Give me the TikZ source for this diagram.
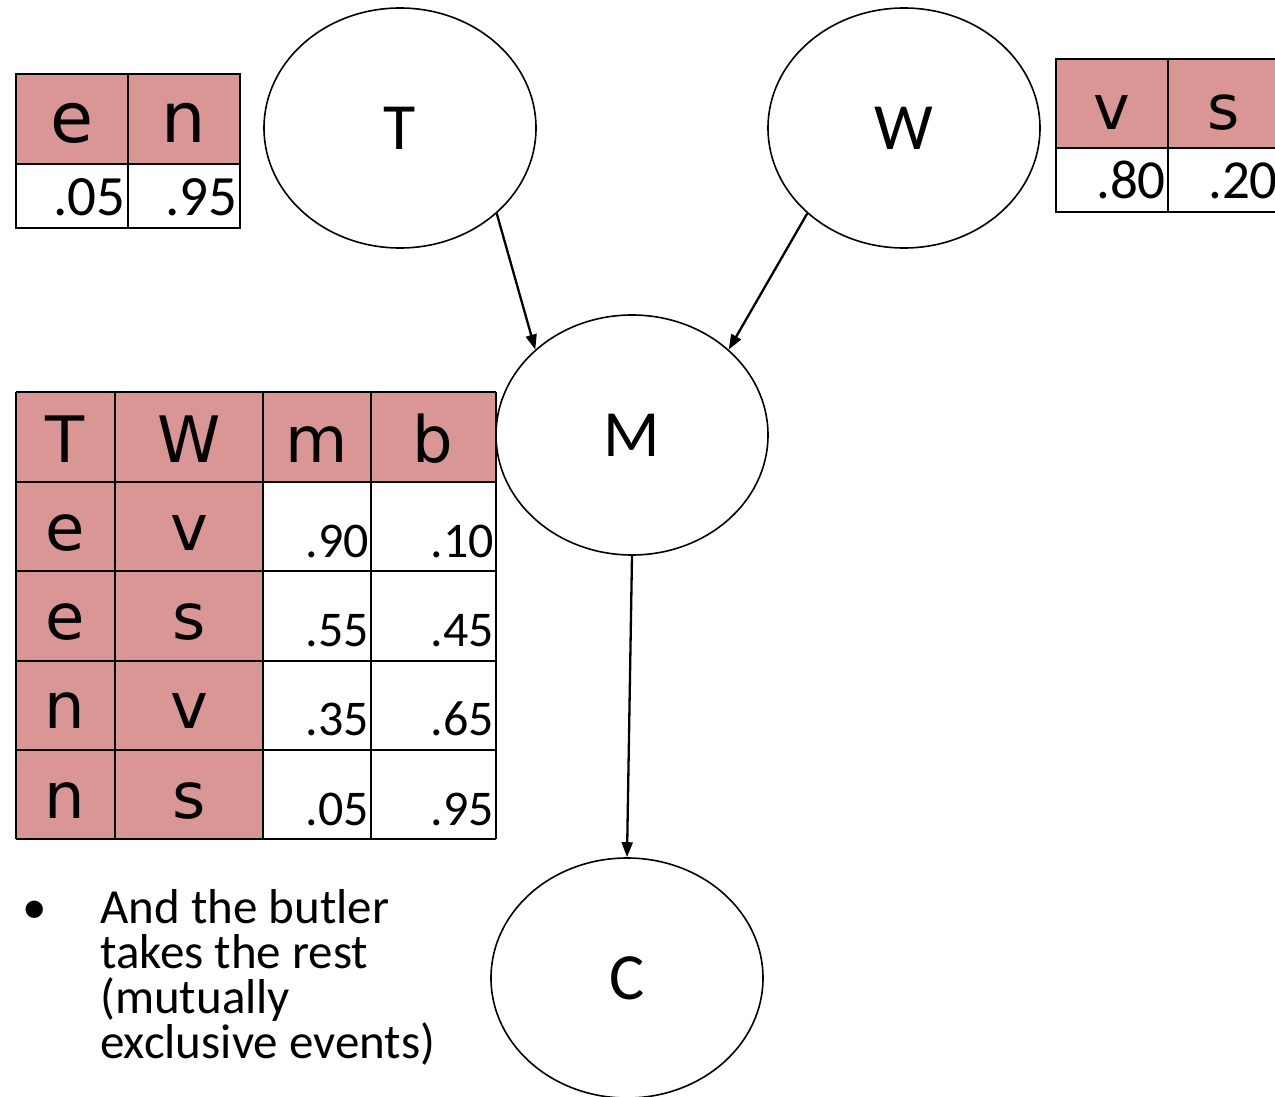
\documentclass[tikz,border=0pt]{standalone}
\usepackage{fontspec}
\setmainfont{Carlito}
\newfontfamily\lblfont{DejaVu Sans}
\usetikzlibrary{arrows.meta,shapes.geometric}
\definecolor{cptPink}{RGB}{217,150,148}

\begin{document}
\begin{tikzpicture}[x=1pt,y=-1pt,
  var/.style={draw,ellipse,line width=1.6pt,minimum width=272pt,minimum height=240pt,inner sep=0pt,font=\fontsize{66}{66}\selectfont},
  arrow/.style={-{Triangle[length=15pt,width=11pt]},line width=2.3pt},
  grid/.style={line width=2.5pt},
  hd/.style={anchor=base,inner sep=0pt,font=\lblfont\fontsize{64}{64}\selectfont},
  num/.style={anchor=base east,inner sep=0pt,font=\fontsize{50}{50}\selectfont}
]
  \useasboundingbox (0,0) rectangle (1275,1097);
  \clip (0,0) rectangle (1275,1097);

  % variables
  \node[var] (T) at (400,128) {T};
  \node[var] (W) at (904,128) {W};
  \node[var] (M) at (632,435) {M};
  \node[var] (C) at (627,978) {C};

  \draw[arrow] (T.south east) -- (M.north west);
  \draw[arrow] (W.south west) -- (M.north east);
  \draw[arrow] (M.south) -- (C.north);

  % table for T
  \fill[cptPink] (16,74) rectangle (240,164);
  \draw[grid] (16,74) rectangle (240,228);
  \draw[grid] (128,74) -- (128,228);
  \draw[grid] (16,164) -- (240,164);
  \node[hd,font=\lblfont\fontsize{70}{70}\selectfont] (pTe) at (72,143) {e};
  \node[hd,font=\lblfont\fontsize{70}{70}\selectfont] (pTn) at (184,143) {n};
  \node[num,font=\fontsize{57}{57}\selectfont] (pTe1) at (126,215) {.05};
  \node[num,font=\fontsize{57}{57}\selectfont] (pTn1) at (238,215) {.95};

  % table for W
  \fill[cptPink] (1056,59) rectangle (1280,148);
  \draw[grid] (1056,59) rectangle (1280,212);
  \draw[grid] (1168,59) -- (1168,212);
  \draw[grid] (1056,148) -- (1280,148);
  \node[hd,font=\lblfont\fontsize{62}{62}\selectfont] (pWv) at (1112,130) {v};
  \node[hd,font=\lblfont\fontsize{62}{62}\selectfont] (pWs) at (1224,130) {s};
  \node[num,font=\fontsize{55}{55}\selectfont] (pWv1) at (1166,198) {.80};
  \node[num,font=\fontsize{55}{55}\selectfont] (pWs1) at (1278,198) {.20};

  % table for M given T and W
  \fill[cptPink] (16,392) rectangle (496,482);
  \fill[cptPink] (16,482) rectangle (263,839);
  \foreach \x in {16,115,263,371,496}
    \draw[grid] (\x,392) -- (\x,839);
  \foreach \y in {392,482,571,661,750,839}
    \draw[grid] (16,\y) -- (496,\y);
  \node[hd] (hT) at (65,462) {T};
  \node[hd] (hW) at (189,462) {W};
  \node[hd] (hm) at (317,462) {m};
  \node[hd] (hb) at (433,462) {b};
  \foreach \t/\w/\m/\b [count=\i] in {e/v/.90/.10,e/s/.55/.45,n/v/.35/.65,n/s/.05/.95}{
    \pgfmathsetmacro{\rowb}{482+89.25*\i}
    \node[hd] (rT\i) at (65,\rowb-21) {\t};
    \node[hd] (rW\i) at (189,\rowb-21) {\w};
    \node[num] (rm\i) at (369,\rowb-14) {\m};
    \node[num] (rb\i) at (494,\rowb-14) {\b};
  }

  % note
  \node[anchor=base,inner sep=0pt,font=\fontsize{49}{45}\selectfont] (dot) at (35,923) {•};
  \node[anchor=base west,align=left,inner sep=0pt,font=\fontsize{49}{45}\selectfont] (note) at (100,1058)
    {And the butler\\takes the rest\\(mutually\\exclusive events)};
\end{tikzpicture}
\end{document}
